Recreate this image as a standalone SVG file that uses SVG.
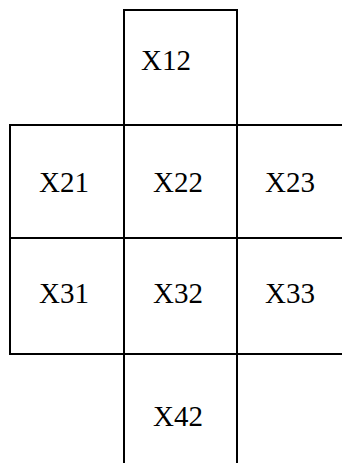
<svg xmlns="http://www.w3.org/2000/svg" width="342" height="463" viewBox="0 0 342 463">
<style>
.cell{fill:#fff;stroke:#000;stroke-width:2}
.t{font-family:"Liberation Serif","Times New Roman",serif;font-size:29px;fill:#000}
</style>
<rect width="342" height="463" fill="#fff"/>
<g id="X12"><rect class="cell" x="124" y="10" width="113" height="115"/><text class="t" x="141" y="70">X12</text></g>
<g id="X21"><rect class="cell" x="10" y="125" width="114" height="113"/><text class="t" x="39" y="192">X21</text></g>
<g id="X22"><rect class="cell" x="124" y="125" width="113" height="113"/><text class="t" x="153" y="192">X22</text></g>
<g id="X23"><rect class="cell" x="237" y="125" width="120" height="113"/><text class="t" x="265" y="192">X23</text></g>
<g id="X31"><rect class="cell" x="10" y="238" width="114" height="116"/><text class="t" x="39" y="303">X31</text></g>
<g id="X32"><rect class="cell" x="124" y="238" width="113" height="116"/><text class="t" x="153" y="303">X32</text></g>
<g id="X33"><rect class="cell" x="237" y="238" width="120" height="116"/><text class="t" x="265" y="303">X33</text></g>
<g id="X42"><rect class="cell" x="124" y="354" width="113" height="120"/><text class="t" x="153" y="426">X42</text></g>
<g id="connectors"></g>
</svg>
